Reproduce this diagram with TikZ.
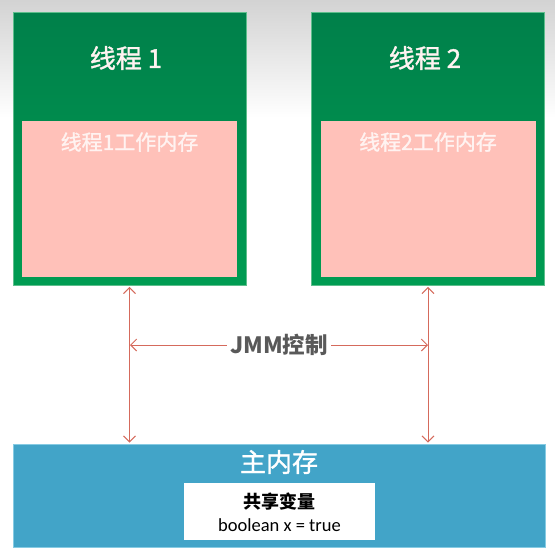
\documentclass[tikz,border=0pt]{standalone}
\usepackage{fontspec}
\setmainfont{Noto Sans CJK SC}
\newfontfamily\cjkmed[FakeBold=1.3]{Noto Sans CJK SC}
\newfontfamily\latinfont{Carlito}
\usetikzlibrary{arrows.meta}
\definecolor{gtop}{HTML}{00804A}
\definecolor{gbot}{HTML}{009C52}
\definecolor{gedge}{HTML}{5DBE8C}
\definecolor{pinkfill}{HTML}{FFC1B9}
\definecolor{pinktext}{HTML}{FFF3F1}
\definecolor{mainblue}{HTML}{42A4C8}
\definecolor{blueedge}{HTML}{86CBE3}
\definecolor{arrowred}{HTML}{D56A5C}
\definecolor{labelgray}{HTML}{595959}
\definecolor{bgtop}{HTML}{D3D3D3}
\tikzset{
  threadbox/.style={draw=gedge, line width=0.8pt, top color=gtop, bottom color=gbot,
    minimum width=233pt, minimum height=273pt, inner sep=0pt},
  workbox/.style={fill=pinkfill, draw=none, minimum width=215pt, minimum height=156pt, inner sep=0pt},
  membox/.style={fill=mainblue, draw=blueedge, line width=0.8pt,
    minimum width=532pt, minimum height=103pt, inner sep=0pt},
  varbox/.style={fill=white, draw=none, minimum width=191pt, minimum height=57pt, inner sep=0pt},
  titletext/.style={text=pinktext, font=\cjkmed\fontsize{26}{30}\selectfont, inner sep=0pt},
  worktext/.style={text=pinktext, font=\cjkmed\fontsize{21}{25}\selectfont, inner sep=0pt},
  link/.style={draw=arrowred, line width=1pt, {Straight Barb[length=6pt,width=12pt]}-{Straight Barb[length=6pt,width=12pt]}},
}
\begin{document}
\begin{tikzpicture}[x=1pt,y=-1pt]
\useasboundingbox (0,0) rectangle (555,558);
\shade[top color=bgtop, bottom color=white] (0,0) rectangle (555,118);
% threads
\node[threadbox] (t1) at (129.5,148.5) {};
\node[threadbox] (t2) at (428,148.5) {};
\node[workbox] (w1) at (129.5,199) {};
\node[workbox] (w2) at (428,199) {};
\node[titletext] (t1l) at (126,58) {线程 1};
\node[titletext] (t2l) at (425,58) {线程 2};
\node[worktext] (w1l) at (129.5,142) {线程1工作内存};
\node[worktext] (w2l) at (428,142) {线程2工作内存};
% main memory
\node[membox] (mm) at (279,495.5) {};
\node[titletext, text=white] (mml) at (279,462) {主内存};
\node[varbox] (vb) at (279.5,511.5) {};
\node[inner sep=0pt, font=\bfseries\fontsize{18}{21}\selectfont] (vt) at (279.5,502) {共享变量};
\node[inner sep=0pt, font=\latinfont\fontsize{18.5}{21}\selectfont] (vv) at (279.5,525) {boolean x = true};
% arrows
\coordinate (a1t) at ([yshift=-1.5pt]t1.south);
\coordinate (a1b) at ([yshift=1pt]t1.south |- mm.north);
\coordinate (a2t) at ([yshift=-1.5pt]t2.south);
\coordinate (a2b) at ([yshift=1pt]t2.south |- mm.north);
\coordinate (hl) at (130,345);
\coordinate (hr) at (428,345);
\draw[link] (a1t) -- (a1b);
\draw[link] (a2t) -- (a2b);
\draw[link] (hl) -- node[fill=white, inner xsep=3pt, inner ysep=2pt, text=labelgray,
  font=\bfseries\fontsize{22.5}{26}\selectfont] (jmm) {JMM控制} (hr);
\end{tikzpicture}
\end{document}
